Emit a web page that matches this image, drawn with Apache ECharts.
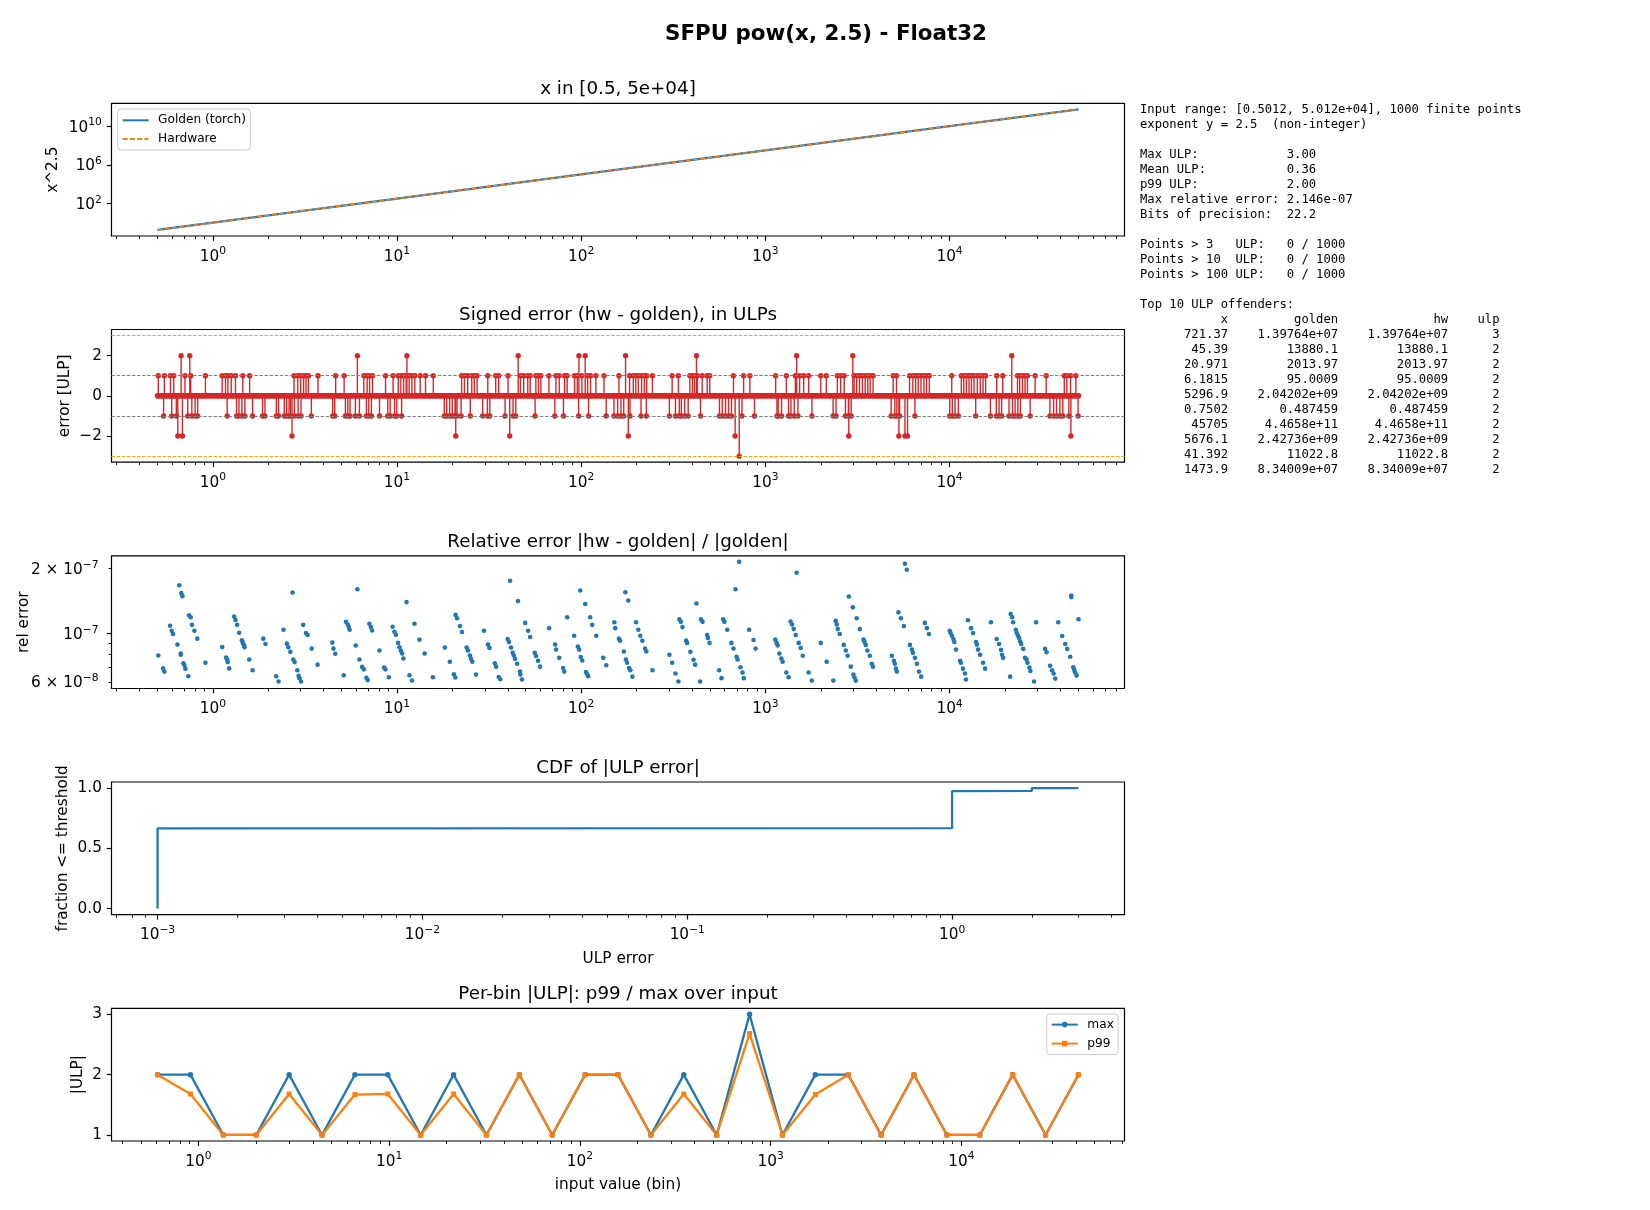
<!DOCTYPE html>
<html>
<head>
<meta charset="utf-8">
<title>SFPU pow(x, 2.5) - Float32</title>
<script src="https://cdn.jsdelivr.net/npm/echarts@6/dist/echarts.min.js"></script>
<style>
  html, body { margin: 0; padding: 0; background: #fff; }
  #chart { width: 1650px; height: 1210px; }
</style>
</head>
<body>
<div id="chart"></div>
<script>
// ---- data ----

// panel 1: x^2.5 curve (golden and hardware overlap)
const curveX = [0.5012, 1, 10, 100, 1000, 10000, 50120];
const goldenY = [0.178, 1, 316, 1.0e5, 3.16e7, 1.0e10, 5.62e11];
const hardwareY = [0.178, 1, 316, 1.0e5, 3.16e7, 1.0e10, 5.62e11];
const inputRange = [0.5012, 50120];

// panel 2: log10(x) of the inputs whose signed error is non zero, per ULP level
const plus1Log = [-0.296, -0.263, -0.230, -0.212, -0.151, -0.120, -0.040, 0.051, 0.069, 0.082, 0.100, 0.123, 0.163, 0.200,
  0.441, 0.461, 0.477, 0.493, 0.506, 0.519, 0.571, 0.667, 0.713, 0.820, 0.838, 0.851, 0.867, 0.938, 0.979, 1.007, 1.021,
  1.036, 1.050, 1.066, 1.081, 1.097, 1.126, 1.155, 1.197, 1.351, 1.366, 1.384, 1.406, 1.420, 1.435, 1.493, 1.536, 1.552,
  1.603, 1.670, 1.688, 1.710, 1.723, 1.754, 1.768, 1.781, 1.825, 1.863, 1.881, 1.910, 1.924, 1.964, 1.979, 2.004, 2.035,
  2.051, 2.080, 2.124, 2.205, 2.263, 2.283, 2.296, 2.310, 2.328, 2.343, 2.356, 2.387, 2.494, 2.528, 2.590, 2.604, 2.615,
  2.631, 2.657, 2.684, 2.698, 2.827, 2.882, 2.916, 3.056, 3.114, 3.163, 3.186, 3.208, 3.235, 3.301, 3.331, 3.391, 3.409,
  3.428, 3.482, 3.496, 3.511, 3.527, 3.542, 3.556, 3.569, 3.585, 3.694, 3.712, 3.783, 3.801, 3.816, 3.830, 3.845, 3.861,
  3.875, 3.890, 4.012, 4.064, 4.077, 4.091, 4.106, 4.119, 4.133, 4.151, 4.167, 4.182, 4.196, 4.256, 4.289, 4.369, 4.381,
  4.396, 4.410, 4.423, 4.465, 4.525, 4.623, 4.637, 4.657, 4.686];
const plus2Log = [-0.172, -0.125, 0.785, 1.054, 1.658, 1.988, 2.022, 2.241, 2.626, 3.170, 3.475, 4.338];
const minus1Log = [-0.267, -0.223, -0.198, -0.136, -0.114, -0.096, -0.082, 0.078, 0.129, 0.142, 0.158, 0.174, 0.216,
  0.270, 0.283, 0.345, 0.357, 0.388, 0.401, 0.414, 0.422, 0.443, 0.463, 0.479, 0.535, 0.651, 0.662, 0.720, 0.733, 0.745,
  0.774, 0.796, 0.834, 0.847, 0.861, 0.905, 0.950, 0.963, 0.987, 0.999, 1.025, 1.257, 1.270, 1.286, 1.300, 1.315, 1.326,
  1.348, 1.398, 1.465, 1.491, 1.504, 1.587, 1.630, 1.645, 1.750, 1.857, 1.904, 1.986, 2.040, 2.136, 2.178, 2.198, 2.216,
  2.231, 2.265, 2.325, 2.354, 2.479, 2.512, 2.533, 2.544, 2.562, 2.581, 2.648, 2.751, 2.766, 2.784, 2.800, 2.816, 2.873,
  2.941, 3.063, 3.070, 3.088, 3.126, 3.139, 3.157, 3.177, 3.253, 3.368, 3.384, 3.435, 3.451, 3.466, 3.683, 3.703, 3.714,
  3.729, 3.812, 4.001, 4.015, 4.030, 4.048, 4.142, 4.222, 4.254, 4.269, 4.283, 4.323, 4.342, 4.356, 4.371, 4.385, 4.438,
  4.545, 4.565, 4.581, 4.599, 4.615, 4.648, 4.698];
const minus2Log = [-0.190, -0.165, 0.430, 1.319, 1.612, 2.256, 2.836, 3.453, 3.725, 3.758, 3.772, 4.659];
const minus3Log = [2.858];
const ulpGuides = [1, -1];
const ulpLimits = [3, -3];

// panel 3: [log10(x), relative error in 1e-7]
const relErrorPoints = [
  [-0.296, 0.794], [-0.270, 0.692], [-0.263, 0.669], [-0.232, 1.088], [-0.223, 1.032], [-0.216, 0.997], [-0.192, 0.891],
  [-0.182, 1.672], [-0.174, 0.811], [-0.174, 0.800], [-0.171, 1.538], [-0.165, 1.490], [-0.160, 0.730], [-0.154, 0.717],
  [-0.149, 0.690], [-0.133, 0.637], [-0.129, 1.216], [-0.120, 1.191], [-0.113, 1.099], [-0.100, 1.032], [-0.084, 0.949],
  [-0.040, 0.735], [0.051, 0.869], [0.072, 0.777], [0.078, 0.761], [0.081, 0.740], [0.089, 0.692], [0.116, 1.199],
  [0.123, 1.158], [0.132, 1.099], [0.143, 1.011], [0.158, 0.932], [0.163, 0.907], [0.170, 0.885], [0.172, 0.866],
  [0.198, 0.761], [0.216, 0.678], [0.274, 0.949], [0.286, 0.897], [0.344, 0.637], [0.357, 0.602], [0.384, 1.043],
  [0.402, 0.900], [0.410, 0.866], [0.421, 0.825], [0.433, 1.549], [0.437, 0.761], [0.444, 0.740], [0.459, 0.678],
  [0.466, 0.639], [0.471, 0.624], [0.479, 0.602], [0.491, 1.099], [0.506, 1.007], [0.515, 0.986], [0.537, 0.854],
  [0.569, 0.720], [0.649, 0.910], [0.655, 0.854], [0.665, 0.808], [0.711, 0.643], [0.723, 1.134], [0.733, 1.103],
  [0.738, 1.073], [0.743, 1.043], [0.776, 0.882], [0.785, 1.604], [0.796, 0.761], [0.811, 0.703], [0.820, 0.685],
  [0.834, 0.626], [0.841, 0.611], [0.850, 1.111], [0.858, 1.073], [0.865, 1.035], [0.905, 0.837], [0.930, 0.698],
  [0.937, 0.685], [0.956, 0.630], [0.976, 1.076], [0.986, 1.021], [0.994, 0.990], [1.006, 0.907], [1.014, 0.866],
  [1.021, 0.834], [1.028, 0.811], [1.035, 0.769], [1.052, 1.399], [1.068, 0.643], [1.081, 0.609], [1.095, 1.111],
  [1.122, 0.939], [1.150, 0.811],
  [1.195, 0.630], [1.260, 0.863], [1.287, 0.743], [1.309, 0.650], [1.317, 0.628], [1.318, 1.221], [1.326, 1.179],
  [1.342, 1.084], [1.353, 1.018], [1.378, 0.863], [1.385, 0.837], [1.396, 0.794], [1.402, 0.766], [1.409, 0.743],
  [1.429, 0.648], [1.472, 1.032], [1.494, 0.891], [1.502, 0.860], [1.531, 0.730], [1.538, 0.705], [1.552, 0.632],
  [1.561, 0.617], [1.601, 0.946], [1.608, 0.916], [1.614, 1.756], [1.619, 0.863], [1.628, 0.816], [1.634, 0.794],
  [1.641, 0.766], [1.652, 0.727], [1.657, 1.414], [1.668, 0.669], [1.670, 0.648], [1.679, 0.615], [1.696, 1.122],
  [1.712, 1.032], [1.723, 0.966], [1.748, 0.816], [1.755, 0.789], [1.766, 0.750], [1.777, 0.705], [1.826, 1.061],
  [1.859, 0.891], [1.864, 0.845], [1.881, 0.774], [1.902, 0.695], [1.908, 0.669], [1.924, 1.191], [1.962, 0.979],
  [1.982, 0.872], [1.989, 0.845], [1.995, 1.581], [1.998, 0.780], [2.006, 0.753], [2.022, 1.370], [2.026, 0.666],
  [2.033, 0.650], [2.038, 0.637], [2.049, 1.191], [2.060, 1.099], [2.082, 0.979], [2.120, 0.774], [2.136, 0.715],
  [2.180, 1.130], [2.185, 1.061], [2.205, 0.949], [2.211, 0.929], [2.232, 0.828], [2.240, 1.553], [2.243, 0.761],
  [2.249, 0.735], [2.256, 1.423], [2.260, 0.695], [2.267, 0.678], [2.278, 0.634], [2.298, 1.130], [2.310, 1.043],
  [2.321, 0.979], [2.332, 0.929], [2.347, 0.854], [2.354, 0.828], [2.387, 0.678], [2.479, 0.800], [2.494, 0.735],
  [2.512, 0.655], [2.528, 0.602], [2.533, 1.166], [2.541, 1.134], [2.550, 1.073], [2.570, 0.929], [2.575, 0.907],
  [2.593, 0.825], [2.610, 0.758], [2.619, 0.720], [2.626, 1.379], [2.646, 0.602], [2.651, 1.166], [2.659, 1.134],
  [2.684, 0.986], [2.688, 0.955], [2.697, 0.907], [2.749, 0.678], [2.762, 0.624], [2.771, 1.166], [2.778, 1.134],
  [2.793, 1.043], [2.816, 0.907], [2.827, 0.854], [2.838, 1.604], [2.844, 0.783], [2.849, 0.761], [2.858, 2.145],
  [2.865, 0.700], [2.876, 0.662], [2.883, 0.624], [2.912, 1.043], [2.936, 0.936], [2.947, 0.854], [3.054, 0.939],
  [3.061, 0.907], [3.067, 0.882], [3.076, 0.811], [3.087, 0.769], [3.094, 0.743],
  [3.114, 0.662], [3.126, 0.630], [3.137, 1.138], [3.145, 1.103], [3.154, 1.050], [3.165, 0.986], [3.170, 1.911],
  [3.181, 0.907], [3.192, 0.860], [3.203, 0.791], [3.235, 0.662], [3.252, 0.608], [3.301, 0.907], [3.333, 0.743],
  [3.369, 0.608], [3.382, 1.146], [3.388, 1.103], [3.393, 1.050], [3.404, 0.997], [3.426, 0.888], [3.437, 0.837],
  [3.447, 0.791], [3.453, 1.485], [3.464, 0.705], [3.475, 1.323], [3.478, 0.648], [3.484, 0.628], [3.491, 0.608],
  [3.496, 1.179], [3.513, 1.050], [3.533, 0.939], [3.538, 0.919], [3.545, 0.888], [3.554, 0.837], [3.567, 0.791],
  [3.578, 0.727], [3.584, 0.705], [3.687, 0.791], [3.698, 0.750], [3.703, 0.727], [3.709, 0.690], [3.714, 0.669],
  [3.723, 1.255], [3.736, 1.179], [3.752, 1.084], [3.758, 2.100], [3.768, 1.972], [3.785, 0.888], [3.796, 0.845],
  [3.801, 0.816], [3.812, 0.774], [3.823, 0.727], [3.834, 0.669], [3.846, 0.634], [3.866, 1.122], [3.877, 1.061],
  [3.888, 0.997], [4.001, 1.032], [4.006, 1.007], [4.013, 0.979], [4.021, 0.946], [4.026, 0.916], [4.035, 0.845],
  [4.057, 0.750], [4.062, 0.735], [4.073, 0.690], [4.084, 0.655], [4.089, 0.615], [4.100, 1.154], [4.117, 1.061],
  [4.128, 1.007], [4.144, 0.916], [4.149, 0.891], [4.155, 0.845], [4.166, 0.800], [4.182, 0.735], [4.193, 0.690],
  [4.225, 1.130], [4.256, 0.946], [4.269, 0.897], [4.280, 0.842], [4.285, 0.800], [4.291, 0.774], [4.329, 0.634],
  [4.332, 1.233], [4.340, 1.191], [4.345, 1.130], [4.360, 1.043], [4.365, 1.007], [4.372, 0.979], [4.378, 0.955],
  [4.383, 0.923], [4.389, 0.897], [4.400, 0.851], [4.410, 0.774], [4.418, 0.761], [4.423, 0.735], [4.434, 0.698],
  [4.439, 0.673], [4.459, 0.602], [4.470, 1.130], [4.519, 0.851], [4.527, 0.822], [4.546, 0.712], [4.557, 0.678],
  [4.565, 0.655], [4.574, 0.621], [4.590, 1.130], [4.612, 0.976], [4.628, 0.897], [4.639, 0.851], [4.655, 0.783],
  [4.661, 1.500], [4.661, 1.475], [4.672, 0.700], [4.677, 0.681], [4.682, 0.662], [4.690, 0.641], [4.700, 1.166]
];

// panel 4: CDF corners
const cdfX = [0.001, 0.001, 1, 1, 2, 2, 3];
const cdfY = [0.001, 0.666, 0.667, 0.975, 0.976, 0.999, 1.0];

// panel 5: per-bin statistics
const binCenters = [0.611, 0.909, 1.352, 2.012, 2.992, 4.450, 6.620, 9.842, 14.64, 21.78, 32.39, 48.18, 71.66, 106.6,
  158.5, 235.8, 350.6, 521.5, 775.7, 1154, 1716, 2552, 3796, 5646, 8399, 12492, 18580, 27636, 41108];
const binMax = [2, 2, 1, 1, 2, 1, 2, 2, 1, 2, 1, 2, 1, 2, 2, 1, 2, 1, 3, 1, 2, 2, 1, 2, 1, 1, 2, 1, 2];
const binP99 = [2, 1.68, 1, 1, 1.68, 1, 1.67, 1.68, 1, 1.68, 1, 2, 1, 2, 2, 1, 1.68, 1, 2.68, 1, 1.67, 2, 1, 2, 1, 1, 2, 1, 2];

// tick values
const inputTicks = [1, 10, 100, 1000, 10000];
const powTicks = [1e2, 1e6, 1e10];
const ulpTicks = [-2, 0, 2];
const relMajorTicks = [1e-7];
const relMinorTicks = [6e-8, 7e-8, 8e-8, 9e-8, 2e-7];
const relLabelTicks = [6e-8, 1e-7, 2e-7];
const cdfXTicks = [0.001, 0.01, 0.1, 1];
const cdfYTicks = [0, 0.5, 1];
const binYTicks = [1, 2, 3];

// summary text
const summaryLines = [
  'Input range: [0.5012, 5.012e+04], 1000 finite points',
  'exponent y = 2.5  (non-integer)',
  '',
  'Max ULP:            3.00',
  'Mean ULP:           0.36',
  'p99 ULP:            2.00',
  'Max relative error: 2.146e-07',
  'Bits of precision:  22.2',
  '',
  'Points > 3   ULP:   0 / 1000',
  'Points > 10  ULP:   0 / 1000',
  'Points > 100 ULP:   0 / 1000',
  '',
  'Top 10 ULP offenders:'
];
const offX = ['721.37', '45.39', '20.971', '6.1815', '5296.9', '0.7502', '45705', '5676.1', '41.392', '1473.9'];
const offGolden = ['1.39764e+07', '13880.1', '2013.97', '95.0009', '2.04202e+09', '0.487459', '4.4658e+11', '2.42736e+09', '11022.8', '8.34009e+07'];
const offHw = ['1.39764e+07', '13880.1', '2013.97', '95.0009', '2.04202e+09', '0.487459', '4.4658e+11', '2.42736e+09', '11022.8', '8.34009e+07'];
const offUlp = [3, 2, 2, 2, 2, 2, 2, 2, 2, 2];

// ---- layout / style ----
const FONT = 'DejaVu Sans';
const MONO = 'DejaVu Sans Mono';
const C0 = '#1f77b4', C1 = '#ff7f0e', C3 = '#d62728';
const GRID_LEFT = 111.5, GRID_W = 1013, GRID_H = 132.7;
const gridTops = [103.3, 329.5, 555.8, 782, 1008.3];
const CENTER_X = GRID_LEFT + GRID_W / 2;
const MINUS = '\u2212';

const inputMin = Math.pow(10, -0.55), inputMax = Math.pow(10, 4.95);
const binMin = Math.pow(10, -0.4552), binMax2 = Math.pow(10, 4.8552);
const cdfMin = Math.pow(10, -3.1739), cdfMax = Math.pow(10, 0.651);

const pairs = (xs, ys) => xs.map((x, i) => [x, ys[i]]);
const supText = (n) => String(n).replace('-', MINUS);
const decadeLabel = (v) => '{b|10}{s|' + supText(Math.round(Math.log10(v))) + '}';
const mantissaLabel = (v) => {
  const e = Math.floor(Math.log10(v) + 1e-9);
  const m = Math.round(v / Math.pow(10, e));
  return (m === 1 ? '{b|10}' : '{b|' + m + ' \u00d7 10}') + '{s|' + supText(e) + '}';
};
const plainLabel = (digits) => (v) => (digits ? v.toFixed(digits) : String(v)).replace('-', MINUS);

// base digits sit on the bottom of an 18px line, exponent hangs from its top
const rich = {
  b: { fontFamily: FONT, fontSize: 15.3, lineHeight: 18.2, verticalAlign: 'bottom', color: '#000' },
  s: { fontFamily: FONT, fontSize: 10.7, lineHeight: 11, verticalAlign: 'top', color: '#000' }
};

function minorLog(lo, hi) {
  const out = [];
  for (let e = Math.floor(Math.log10(lo)); e <= Math.ceil(Math.log10(hi)); e++) {
    for (let m = 2; m <= 9; m++) {
      const v = m * Math.pow(10, e);
      if (v >= lo && v <= hi) out.push(v);
    }
  }
  return out;
}

function axisPair(dim, gi, type, min, max, ticks, labels, fmt, minor, margin) {
  const pos = dim === 'x' ? 'bottom' : 'left';
  const major = {
    type, gridIndex: gi, min, max, position: pos, logBase: 10,
    axisLine: { show: false, onZero: false },
    splitLine: { show: false },
    axisTick: { show: true, length: 4.8, lineStyle: { color: '#000', width: 1.2 }, customValues: ticks },
    axisLabel: {
      show: true, customValues: labels, formatter: fmt, margin, color: '#000',
      fontFamily: FONT, fontSize: 15.3, rich, hideOverlap: false
    }
  };
  if (type !== 'log') delete major.logBase;
  const list = [major];
  if (minor) {
    const m = {
      type, gridIndex: gi, min, max, position: pos, logBase: 10,
      axisLine: { show: false, onZero: false },
      splitLine: { show: false },
      axisLabel: { show: false },
      axisTick: { show: true, length: 3, lineStyle: { color: '#000', width: 0.9 }, customValues: minor }
    };
    if (type !== 'log') delete m.logBase;
    list.push(m);
  }
  return list;
}

const inputMinor = minorLog(inputMin, inputMax);
const xAxis = [].concat(
  axisPair('x', 0, 'log', inputMin, inputMax, inputTicks, inputTicks, decadeLabel, inputMinor, 10),   // 0,1
  axisPair('x', 1, 'log', inputMin, inputMax, inputTicks, inputTicks, decadeLabel, inputMinor, 10),   // 2,3
  axisPair('x', 2, 'log', inputMin, inputMax, inputTicks, inputTicks, decadeLabel, inputMinor, 10),   // 4,5
  axisPair('x', 3, 'log', cdfMin, cdfMax, cdfXTicks, cdfXTicks, decadeLabel, minorLog(cdfMin, cdfMax), 10), // 6,7
  axisPair('x', 4, 'log', binMin, binMax2, inputTicks, inputTicks, decadeLabel, minorLog(binMin, binMax2), 10) // 8,9
);
const yAxis = [].concat(
  axisPair('y', 0, 'log', Math.pow(10, -1.375), Math.pow(10, 12.375), powTicks, powTicks, decadeLabel, null, 9.6), // 0
  axisPair('y', 1, 'value', -3.3, 3.3, ulpTicks, ulpTicks, plainLabel(0), null, 9.6),                           // 1
  axisPair('y', 2, 'log', 5.59e-8, 2.287e-7, relMajorTicks, relLabelTicks, mantissaLabel, relMinorTicks, 13),   // 2,3
  axisPair('y', 3, 'value', -0.05, 1.05, cdfYTicks, cdfYTicks, plainLabel(1), null, 9.6),                       // 4
  axisPair('y', 4, 'value', 0.9, 3.1, binYTicks, binYTicks, plainLabel(0), null, 9.6)                           // 5
);

const stemData = [];
[[1, plus1Log], [2, plus2Log], [-1, minus1Log], [-2, minus2Log], [-3, minus3Log]].forEach(([ulp, logs]) => {
  logs.forEach((l) => stemData.push([Math.pow(10, l), ulp]));
});
const relData = relErrorPoints.map(([lx, e]) => [Math.pow(10, lx), e * 1e-7]);

const series = [
  {
    name: 'Golden (torch)', type: 'line', xAxisIndex: 0, yAxisIndex: 0, data: pairs(curveX, goldenY),
    symbol: 'none', lineStyle: { color: C0, width: 2.3 }, itemStyle: { color: C0 }, silent: true
  },
  {
    name: 'Hardware', type: 'line', xAxisIndex: 0, yAxisIndex: 0, data: pairs(curveX, hardwareY),
    symbol: 'none', lineStyle: { color: C1, width: 1.5, type: [5, 2.2] }, itemStyle: { color: C1 }, silent: true
  },
  {
    type: 'line', xAxisIndex: 2, yAxisIndex: 1, data: inputRange.map((x) => [x, 0]), symbol: 'none', silent: true,
    lineStyle: { color: C3, width: 5.6, cap: 'round' }, z: 2,
    markLine: {
      silent: true, symbol: 'none', label: { show: false }, animation: false,
      data: ulpGuides.map((v) => ({ yAxis: v, lineStyle: { color: '#808080', width: 1, type: [3.5, 1.6] } }))
        .concat(ulpLimits.map((v) => ({ yAxis: v, lineStyle: { color: '#ffa500', width: 1, type: [3.5, 1.6] } })))
    }
  },
  {
    type: 'custom', xAxisIndex: 2, yAxisIndex: 1, data: stemData, encode: { x: 0, y: 1 }, silent: true, z: 3,
    renderItem: (params, api) => {
      const base = api.coord([api.value(0), 0]);
      const tip = api.coord([api.value(0), api.value(1)]);
      return {
        type: 'group',
        children: [
          { type: 'line', shape: { x1: base[0], y1: base[1], x2: tip[0], y2: tip[1] }, style: { stroke: C3, lineWidth: 1.4 } },
          { type: 'circle', shape: { cx: tip[0], cy: tip[1], r: 2.7 }, style: { fill: C3 } }
        ]
      };
    }
  },
  {
    type: 'scatter', xAxisIndex: 4, yAxisIndex: 2, data: relData, symbolSize: 4.6,
    itemStyle: { color: C0, opacity: 1 }, silent: true
  },
  {
    type: 'line', xAxisIndex: 6, yAxisIndex: 4, data: pairs(cdfX, cdfY), symbol: 'none',
    lineStyle: { color: C0, width: 2.3 }, silent: true
  },
  {
    name: 'max', type: 'line', xAxisIndex: 8, yAxisIndex: 5, data: pairs(binCenters, binMax),
    symbol: 'circle', symbolSize: 5.5, showSymbol: true, lineStyle: { color: C0, width: 2.3 }, itemStyle: { color: C0 }, silent: true
  },
  {
    name: 'p99', type: 'line', xAxisIndex: 8, yAxisIndex: 5, data: pairs(binCenters, binP99),
    symbol: 'rect', symbolSize: 5, showSymbol: true, lineStyle: { color: C1, width: 2.3 }, itemStyle: { color: C1 }, silent: true
  }
];

const legendBase = {
  orient: 'vertical', itemWidth: 26, selectedMode: false,
  backgroundColor: 'rgba(255,255,255,0.8)', borderColor: '#cccccc', borderWidth: 1, borderRadius: 3
};
const legend = [
  Object.assign({}, legendBase, {
    data: ['Golden (torch)', 'Hardware'], left: 117.7, top: 109, itemHeight: 14, itemGap: 6.8,
    itemStyle: { opacity: 0 },
    padding: [5.3, 4.3, 5, 4], textStyle: { fontFamily: FONT, fontSize: 12.2, color: '#000', padding: [0, 0, 0, 4.3] }
  }),
  Object.assign({}, legendBase, {
    data: ['max', 'p99'], left: 1046.7, top: 1014, itemHeight: 7, itemGap: 7,
    padding: [4.6, 4.3, 5, 4], textStyle: { fontFamily: FONT, fontSize: 12.2, color: '#000', padding: [0, 0, 0, 4.6] }
  })
];

function label(text, x, y, size, opts) {
  return Object.assign({
    type: 'text', x, y, silent: true,
    style: {
      text, x: 0, y: 0, fill: '#000', fontFamily: FONT, fontSize: size,
      textAlign: 'center', align: 'center', textVerticalAlign: 'middle', verticalAlign: 'middle'
    }
  }, opts || {});
}

const panelTitles = [
  'x in [0.5, 5e+04]',
  'Signed error (hw - golden), in ULPs',
  'Relative error |hw - golden| / |golden|',
  'CDF of |ULP error|',
  'Per-bin |ULP|: p99 / max over input'
];
const yNames = ['x^2.5', 'error [ULP]', 'rel error', 'fraction <= threshold', '|ULP|'];
const yNameX = [53.3, 65, 24.5, 62.7, 78.5];

const tableLines = [
  'x'.padStart(12) + 'golden'.padStart(15) + 'hw'.padStart(15) + 'ulp'.padStart(7)
].concat(offX.map((x, i) => x.padStart(12) + offGolden[i].padStart(15) + offHw[i].padStart(15) + String(offUlp[i]).padStart(7)));

const graphic = [
  label('SFPU pow(x, 2.5) - Float32', 826, 34.5, 21.4, {}),
].concat(
  panelTitles.map((t, i) => label(t, CENTER_X, gridTops[i] - 13.8, 18.3)),
  yNames.map((t, i) => label(t, yNameX[i], gridTops[i] + GRID_H / 2, 15.3, { rotation: Math.PI / 2 })),
  [
    label('ULP error', CENTER_X, gridTops[3] + GRID_H + 44, 15.3),
    label('input value (bin)', CENTER_X, gridTops[4] + GRID_H + 44, 15.3),
    {
      type: 'text', x: 1140, y: 102.8, silent: true,
      style: {
        text: summaryLines.concat(tableLines).join('\n'), x: 0, y: 0, fill: '#000',
        fontFamily: MONO, fontSize: 12.2, lineHeight: 15,
        textAlign: 'left', align: 'left', textVerticalAlign: 'top', verticalAlign: 'top'
      }
    }
  ]
);
graphic[0].style.fontWeight = 'bold';

const chart = echarts.init(document.getElementById('chart'), null, { renderer: 'canvas' });
chart.setOption({
  animation: false,
  backgroundColor: '#fff',
  textStyle: { fontFamily: FONT },
  grid: gridTops.map((t) => ({
    left: GRID_LEFT, top: t, width: GRID_W, height: GRID_H, show: true,
    borderColor: '#000', borderWidth: 1.2, backgroundColor: 'transparent',
    containLabel: false, outerBoundsMode: 'none'
  })),
  xAxis,
  yAxis,
  legend,
  series,
  graphic
});
</script>
</body>
</html>
